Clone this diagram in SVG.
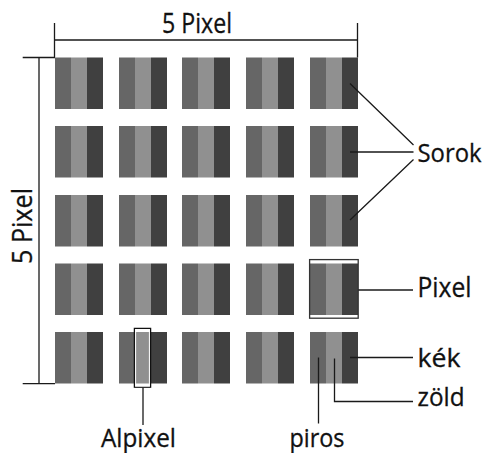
<svg xmlns="http://www.w3.org/2000/svg" width="486" height="453" viewBox="0 0 486 453">
<style>
.r{fill:#666666}.g{fill:#909090}.b{fill:#404040}
.ln{stroke:#1a1a1a;stroke-width:1.3;fill:none}
.t{font-family:"Open Sans","Noto Sans","Liberation Sans",sans-serif;fill:#111;font-size:28px;stroke:#111;stroke-width:0.3}
</style>
<defs>
<g id="px"><rect class="r" x="0" y="0" width="16" height="51.5"/><rect class="g" x="16" y="0" width="16" height="51.5"/><rect class="b" x="32" y="0" width="16" height="51.5"/></g>
</defs>
<rect width="486" height="453" fill="#fff"/>
<g id="grid">
<use href="#px" x="55" y="57.5"/><use href="#px" x="119" y="57.5"/><use href="#px" x="182" y="57.5"/><use href="#px" x="246" y="57.5"/><use href="#px" x="310" y="57.5"/>
<use href="#px" x="55" y="126"/><use href="#px" x="119" y="126"/><use href="#px" x="182" y="126"/><use href="#px" x="246" y="126"/><use href="#px" x="310" y="126"/>
<use href="#px" x="55" y="195"/><use href="#px" x="119" y="195"/><use href="#px" x="182" y="195"/><use href="#px" x="246" y="195"/><use href="#px" x="310" y="195"/>
<use href="#px" x="55" y="263.5"/><use href="#px" x="119" y="263.5"/><use href="#px" x="182" y="263.5"/><use href="#px" x="246" y="263.5"/><use href="#px" x="310" y="263.5"/>
<use href="#px" x="55" y="332"/><use href="#px" x="119" y="332"/><use href="#px" x="182" y="332"/><use href="#px" x="246" y="332"/><use href="#px" x="310" y="332"/>
</g>
<g id="highlights">
<rect x="309.6" y="259.6" width="48.6" height="58.6" fill="none" stroke="#333" stroke-width="1.3"/>
<rect x="134.4" y="328.4" width="16.2" height="58.8" fill="none" stroke="#111" stroke-width="1.3"/>
<rect x="135.6" y="329.6" width="13.8" height="56.4" fill="none" stroke="#fff" stroke-width="1"/>
</g>
<g id="connectors">
<path class="ln" d="M54.5 23V57.5M357.5 23V57.5M54.5 40H357.5"/>
<path class="ln" d="M22.7 57.5H55M22.7 383.6H55M39 57.5V383.6"/>
<path class="ln" d="M350 83.5L413.5 145M350 152H413.5M350 220L413.5 159.5"/>
<path class="ln" d="M358.3 290H413"/>
<path class="ln" d="M350 357.5H413"/>
<path class="ln" d="M334.5 358.5V401.5H413"/>
<path class="ln" d="M318.5 357.5V423.5"/>
<path class="ln" d="M143 387.5V425"/>
</g>
<g id="labels">
<text class="t" x="162" y="33.3" textLength="70" lengthAdjust="spacingAndGlyphs">5 Pixel</text>
<text class="t" x="32.3" y="264" transform="rotate(-90 32.3 264)" textLength="76" lengthAdjust="spacingAndGlyphs">5 Pixel</text>
<text class="t" x="417.5" y="161.5" style="font-size:25.5px" textLength="64" lengthAdjust="spacingAndGlyphs">Sorok</text>
<text class="t" x="417.5" y="296.7" textLength="54" lengthAdjust="spacingAndGlyphs">Pixel</text>
<text class="t" x="417.5" y="366.7" style="font-size:25px" textLength="43" lengthAdjust="spacingAndGlyphs">kék</text>
<text class="t" x="417.5" y="406" style="font-size:25px" textLength="47" lengthAdjust="spacingAndGlyphs">zöld</text>
<text class="t" x="101" y="446.5" style="font-size:25px" textLength="75" lengthAdjust="spacingAndGlyphs">Alpixel</text>
<text class="t" x="289.5" y="446.5" style="font-size:25px" textLength="55" lengthAdjust="spacingAndGlyphs">piros</text>
</g>
</svg>
